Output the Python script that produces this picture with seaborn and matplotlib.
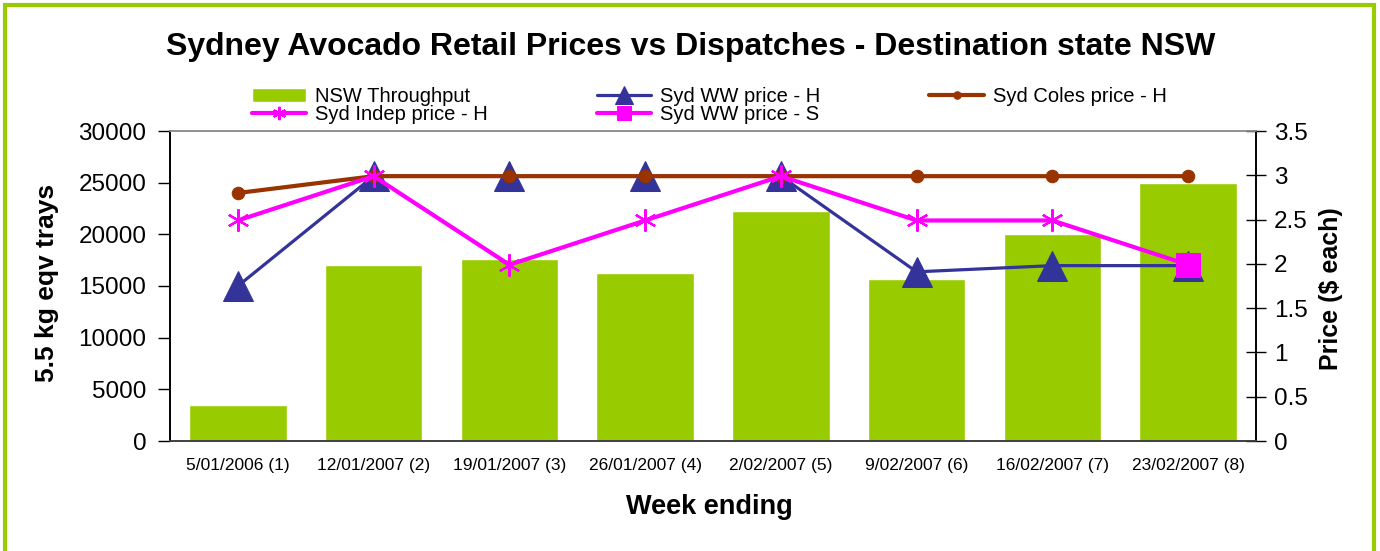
import pandas as pd
import matplotlib
matplotlib.use('Agg')
import matplotlib.pyplot as plt
import seaborn as sns
from matplotlib.patches import Rectangle
from matplotlib.ticker import FixedLocator, FuncFormatter


# DATA

weeks = ['5/01/2006 (1)', '12/01/2007 (2)', '19/01/2007 (3)', '26/01/2007 (4)',
         '2/02/2007 (5)', '9/02/2007 (6)', '16/02/2007 (7)', '23/02/2007 (8)']
throughput = [3500, 17000, 17600, 16250, 22300, 15700, 20000, 25000]
ww_price_h = [1.75, 2.99, 2.99, 2.99, 2.99, 1.91, 1.98, 1.98]
coles_price_h = [2.80, 2.99, 2.99, 2.99, 2.99, 2.99, 2.99, 2.99]
indep_price_h = [2.49, 2.99, 1.99, 2.49, 2.99, 2.49, 2.49, 1.99]
ww_weeks_s = ['23/02/2007 (8)']
ww_price_s = [1.99]

df = pd.DataFrame({'Week': weeks, 'Throughput': throughput})

green = '#99CC00'
navy = '#333399'
brown = '#993300'
magenta = '#FF00FF'

sns.set_style('white')
plt.rcParams['font.family'] = ['Liberation Sans', 'DejaVu Sans']
plt.rcParams['text.color'] = 'black'
plt.rcParams['xtick.color'] = 'black'
plt.rcParams['ytick.color'] = 'black'
plt.rcParams['axes.labelcolor'] = 'black'

fig = plt.figure(figsize=(13.8, 5.51), dpi=100)
ax = fig.add_axes([170 / 1380, 110 / 551, 1086 / 1380, 310 / 551])

# Bars - throughput
sns.barplot(data=df, x='Week', y='Throughput', color=green, width=0.72,
            saturation=1, ax=ax, label='NSW Throughput', zorder=2)
ax.set_ylim(0, 30000)
ax.set_xlim(-0.5, len(weeks) - 0.5)
ax.set_yticks(range(0, 30001, 5000))
ax.set_xlabel('')
ax.set_ylabel('')

# Lines - prices on second axis
ax2 = ax.twinx()
sns.lineplot(x=weeks, y=ww_price_h, ax=ax2, color=navy, linewidth=2.3, sort=False,
             marker='^', markersize=21, markeredgecolor=navy, label='Syd WW price - H')
sns.lineplot(x=weeks, y=coles_price_h, ax=ax2, color=brown, linewidth=3, sort=False,
             marker='o', markersize=9, markeredgecolor=brown, label='Syd Coles price - H')
sns.lineplot(x=weeks, y=indep_price_h, ax=ax2, color=magenta, linewidth=3, sort=False,
             marker=(6, 2, 0), markersize=16, markeredgewidth=1.6, markeredgecolor=magenta,
             label='Syd Indep price - H')
sns.lineplot(x=ww_weeks_s, y=ww_price_s, ax=ax2, color=magenta, linewidth=3, sort=False,
             marker='s', markersize=17, markeredgecolor=magenta, label='Syd WW price - S')
ax2.set_ylim(0, 3.5)
ax2.set_yticks([0, 0.5, 1, 1.5, 2, 2.5, 3, 3.5])
ax2.yaxis.set_major_formatter(FuncFormatter(lambda v, p: '%g' % v))
ax2.set_ylabel('')

# Ticks: boundaries as major ticks, labels at category centres
ax.xaxis.set_major_locator(FixedLocator([i - 0.5 for i in range(len(weeks) + 1)]))
ax.xaxis.set_minor_locator(FixedLocator(range(len(weeks))))
ax.set_xticklabels([''] * (len(weeks) + 1))
ax.set_xticklabels(weeks, minor=True)
ax.tick_params(axis='x', which='major', direction='out', length=7, width=1, color='black')
ax.tick_params(axis='x', which='minor', length=0, pad=12, labelsize=12.5)
ax.tick_params(axis='y', direction='out', length=9, width=1, color='black', pad=8, labelsize=17.5)
ax2.tick_params(axis='y', direction='inout', length=14, width=1, color='black', pad=6, labelsize=17.5)

for a in (ax, ax2):
    for s in a.spines.values():
        s.set_visible(True)
        s.set_linewidth(1.2)
    a.spines['top'].set_color('#909090')
    a.spines['left'].set_color('black')
    a.spines['right'].set_color('black')
    a.spines['bottom'].set_color('#404040')
ax.patch.set_alpha(0)

# Legend (order chosen so it reads row by row)
h1, l1 = ax.get_legend_handles_labels()
h2, l2 = ax2.get_legend_handles_labels()
if ax.get_legend() is not None:
    ax.get_legend().remove()
if ax2.get_legend() is not None:
    ax2.get_legend().remove()
hd = dict(zip(l1 + l2, h1 + h2))
order = ['NSW Throughput', 'Syd Indep price - H', 'Syd WW price - H',
         'Syd WW price - S', 'Syd Coles price - H']
leg = fig.legend([hd[k] for k in order], order, ncol=3, loc='upper left',
                 bbox_to_anchor=(252 / 1380, 1 - 87 / 551), frameon=False,
                 fontsize=14.5, handlelength=2.7, handletextpad=0.45, columnspacing=5.4,
                 labelspacing=-0.05, borderpad=0, borderaxespad=0, markerscale=0.6)

# Titles and axis labels
fig.text(691 / 1380, 1 - 47 / 551, 'Sydney Avocado Retail Prices vs Dispatches - Destination state NSW',
         ha='center', va='center', fontsize=23, fontweight='bold')
fig.text(47 / 1380, 1 - 283 / 551, '5.5 kg eqv trays', rotation=90, ha='center', va='center',
         fontsize=19, fontweight='bold')
fig.text(1331 / 1380, 1 - 289 / 551, 'Price ($ each)', rotation=90, ha='center', va='center',
         fontsize=18, fontweight='bold')
fig.text(709 / 1380, 1 - 507 / 551, 'Week ending', ha='center', va='center',
         fontsize=19.5, fontweight='bold')

# Green chart border
fig.patches.append(Rectangle((5 / 1380, -0.05), 1369 / 1380, 1 - 5 / 551 + 0.05,
                             transform=fig.transFigure, fill=False, edgecolor=green,
                             linewidth=3, zorder=0))

fig.savefig('out.png', dpi=100)
